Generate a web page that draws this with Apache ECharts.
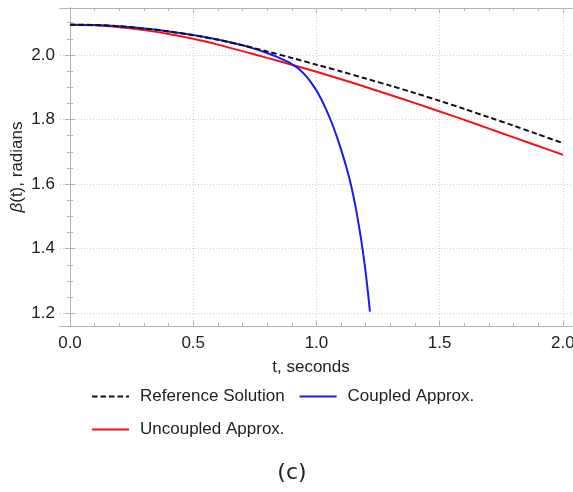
<!DOCTYPE html>
<html>
  <head>
    <meta charset="utf-8" />
    <title>beta(t)</title>
    <script src="https://cdn.jsdelivr.net/npm/echarts@6/dist/echarts.min.js"></script>
    <style>
      html, body { margin: 0; padding: 0; background: #fff; }
    </style>
  </head>
  <body>
    <div id="main" style="width: 573px;height:492px;"></div>
    <script type="text/javascript">
      // time samples and curves
      var tRef = [0, 0.1, 0.2, 0.3, 0.4, 0.5, 0.6, 0.7, 0.8, 0.9, 1.0, 1.1, 1.2, 1.3, 1.4, 1.5, 1.6, 1.7, 1.8, 1.9, 2.0];
      var refVals = [2.094, 2.093, 2.089, 2.082, 2.073, 2.061, 2.047, 2.030, 2.011, 1.991, 1.970, 1.949, 1.927, 1.905, 1.882, 1.858, 1.833, 1.807, 1.781, 1.754, 1.727];
      var uncVals = [2.094, 2.092, 2.086, 2.077, 2.065, 2.050, 2.032, 2.012, 1.991, 1.970, 1.948, 1.925, 1.901, 1.876, 1.851, 1.825, 1.799, 1.772, 1.745, 1.718, 1.691];

      var tCoup = [0, 0.1, 0.2, 0.3, 0.4, 0.5, 0.6, 0.7, 0.75, 0.8, 0.84, 0.88, 0.9, 0.92, 0.94, 0.96, 0.98, 1.0, 1.02, 1.04, 1.06, 1.08, 1.1, 1.12, 1.14, 1.16, 1.18, 1.19, 1.2, 1.21, 1.217];
      var coupVals = [2.094, 2.093, 2.089, 2.082, 2.073, 2.062, 2.048, 2.030, 2.019, 2.006, 1.994, 1.980, 1.972, 1.962, 1.949, 1.933, 1.913, 1.890, 1.862, 1.830, 1.794, 1.753, 1.707, 1.656, 1.598, 1.525, 1.435, 1.383, 1.325, 1.258, 1.205];

      // tick positions
      var xMajor = [0, 0.5, 1.0, 1.5, 2.0];
      var xMinor = [0, 0.1, 0.2, 0.3, 0.4, 0.5, 0.6, 0.7, 0.8, 0.9, 1.0, 1.1, 1.2, 1.3, 1.4, 1.5, 1.6, 1.7, 1.8, 1.9, 2.0];
      var yMajor = [1.2, 1.4, 1.6, 1.8, 2.0];
      var yMinor = [1.2, 1.25, 1.3, 1.35, 1.4, 1.45, 1.5, 1.55, 1.6, 1.65, 1.7, 1.75, 1.8, 1.85, 1.9, 1.95, 2.0, 2.05, 2.1];

      var names = ['Reference Solution', 'Coupled Approx.', 'Uncoupled Approx.'];

      function zip(a, b) {
        return a.map(function (v, i) { return [v, b[i]]; });
      }

      var X0 = -0.0406, X1 = 2.037, Y0 = 1.1607, Y1 = 2.1455;
      var frame = { show: true, lineStyle: { color: '#b4b4b4', width: 1 } };
      var font = 'Liberation Sans, Arial, sans-serif';

      function xAx(pos, ticks, len, main) {
        return {
          type: 'value', position: pos, min: X0, max: X1,
          axisLine: frame,
          axisTick: { show: true, inside: true, length: len, customValues: ticks, lineStyle: { color: '#b4b4b4' } },
          axisLabel: main ? { show: true, customValues: xMajor, formatter: function (v) { return v.toFixed(1); }, color: '#222', fontSize: 17, fontFamily: font, margin: 9 } : { show: false },
          splitLine: main ? { show: true, lineStyle: { color: '#cdcdcd', type: [1, 2], width: 1 } } : { show: false },
          name: main ? 't, seconds' : '',
          nameLocation: 'middle', nameGap: 33,
          nameTextStyle: { color: '#222', fontSize: 17, fontFamily: font, padding: [0, 10, 0, 0] }
        };
      }
      function yAx(pos, ticks, len, main) {
        return {
          type: 'value', position: pos, min: Y0, max: Y1,
          axisLine: frame,
          axisTick: { show: true, inside: true, length: len, customValues: ticks, lineStyle: { color: '#b4b4b4' } },
          axisLabel: main ? { show: true, customValues: yMajor, formatter: function (v) { return v.toFixed(1); }, color: '#222', fontSize: 17, fontFamily: font, margin: 5 } : { show: false },
          splitLine: main ? { show: true, lineStyle: { color: '#cdcdcd', type: [1, 2], width: 1 } } : { show: false },
          name: main ? '{b|β}(t), radians' : '',
          nameLocation: 'middle', nameGap: 34, nameMoveOverlap: false,
          nameTextStyle: { color: '#222', fontSize: 17, fontFamily: font, rich: { b: { fontStyle: 'italic', fontSize: 17, fontFamily: font, color: '#222' } } }
        };
      }

      var legendText = { fontSize: 17, color: '#222', fontFamily: font, padding: [0, 0, 0, 6] };

      var myChart = echarts.init(document.getElementById('main'));
      myChart.setOption({
        animation: false,
        backgroundColor: '#fff',
        title: {
          text: '(c)', left: 287, top: 457, textAlign: 'center',
          textStyle: { fontSize: 22, fontWeight: 'normal', color: '#222', fontFamily: 'DejaVu Sans, sans-serif' }
        },
        grid: { left: 60, right: 1, top: 8, bottom: 166, containLabel: false, outerBoundsMode: 'none' },
        xAxis: [
          xAx('bottom', xMajor, 5, true),
          xAx('bottom', xMinor, 3, false),
          xAx('top', xMajor, 5, false),
          xAx('top', xMinor, 3, false)
        ],
        yAxis: [
          yAx('left', yMajor, 5, true),
          yAx('left', yMinor, 3, false),
          yAx('right', yMajor, 5, false),
          yAx('right', yMinor, 3, false)
        ],
        legend: [
          {
            data: [names[0], names[1]], left: 86, top: 383, itemWidth: 37, itemHeight: 14, itemGap: 14,
            itemStyle: { opacity: 0 }, textStyle: legendText
          },
          {
            data: [names[2]], left: 86, top: 416, itemWidth: 37, itemHeight: 14,
            itemStyle: { opacity: 0 }, textStyle: legendText
          }
        ],
        series: [
          {
            name: names[2], type: 'line', data: zip(tRef, uncVals), showSymbol: false, symbol: 'none',
            smooth: 0.3, lineStyle: { color: '#f2131c', width: 2 }, itemStyle: { color: '#f2131c' }, z: 3
          },
          {
            name: names[1], type: 'line', data: zip(tCoup, coupVals), showSymbol: false, symbol: 'none',
            smooth: 0.3, lineStyle: { color: '#1a1af2', width: 2 }, itemStyle: { color: '#1a1af2' }, z: 4
          },
          {
            name: names[0], type: 'line', data: zip(tRef, refVals), showSymbol: false, symbol: 'none',
            smooth: 0.3, lineStyle: { color: '#111', width: 2, type: [5.5, 3] }, itemStyle: { color: '#111' }, z: 5
          }
        ]
      });
    </script>
  </body>
</html>
